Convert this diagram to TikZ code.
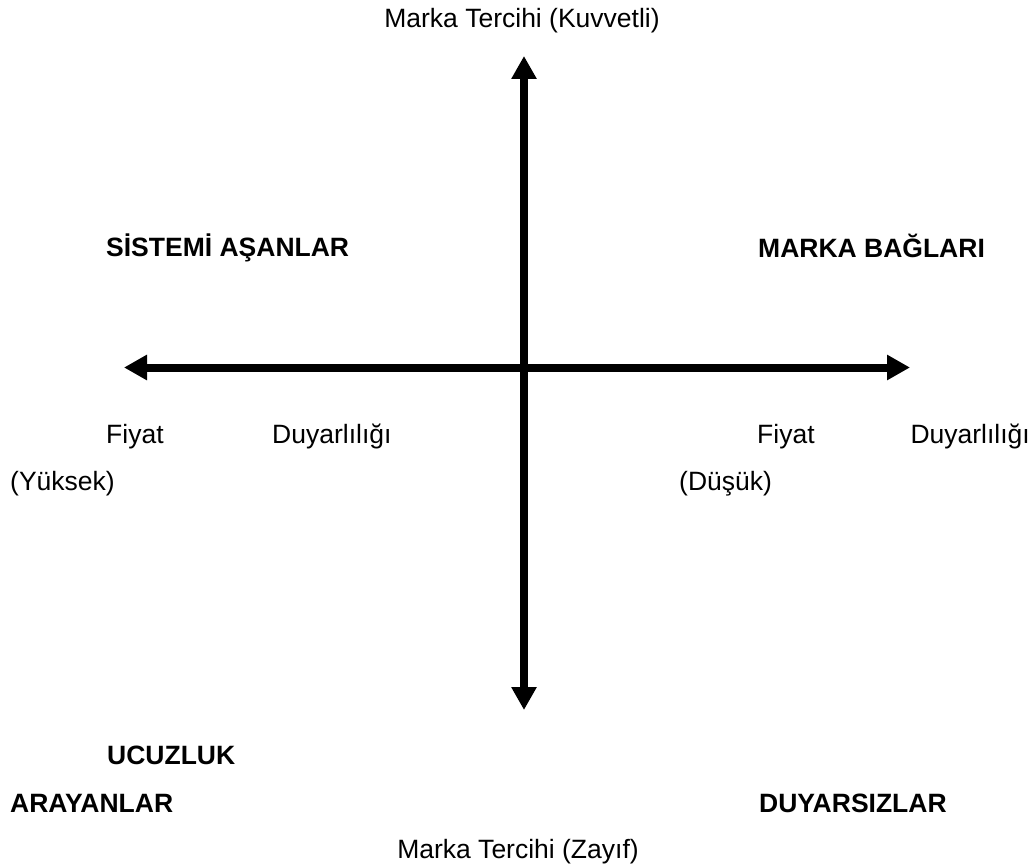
\documentclass[tikz,border=0pt]{standalone}
\usepackage{fontspec}
\setmainfont{Liberation Sans}
\usetikzlibrary{arrows.meta}
\tikzset{
	lbl/.style={inner sep=0pt, anchor=base west, font=\fontsize{26.5}{31}\selectfont},
	grp/.style={lbl, font=\fontsize{26.5}{31}\selectfont\bfseries},
	axis/.style={line width=8pt, {Triangle[length=23pt,width=24pt]}-{Triangle[length=23pt,width=24pt]}}
}
\begin{document}
\begin{tikzpicture}[x=1pt, y=-1pt]
			\useasboundingbox (0,0) rectangle (1032,866);
			\begin{scope}
				% axes
				\coordinate (top) at (524,56);
				\coordinate (bottom) at (524,710);
				\coordinate (left) at (124,367.5);
				\coordinate (right) at (910,367.5);
				\draw[axis] (bottom) -- (top);
				\draw[axis] (left) -- (right);
			\end{scope}
			
			\node[lbl, anchor=base] (strong) at (522,28) {Marka Tercihi (Kuvvetli)};
			\node[lbl, anchor=base] (weak) at (518,858) {Marka Tercihi (Zayıf)};
			
			\node[grp] (sistem) at (106,257) {SİSTEMİ AŞANLAR};
			\node[grp] (bagli) at (758,258) {MARKA BAĞLARI};
			\node[grp] (ucuz) at (107,764) {UCUZLUK};
			\node[grp] (araya) at (10,812) {ARAYANLAR};
			\node[grp] (duyarsiz) at (759,812) {DUYARSIZLAR};
			
			\node[lbl] (fiyatL) at (106,443) {Fiyat};
			\node[lbl] (duyarL) at (272,443) {Duyarlılığı};
			\node[lbl] (yuksek) at (10,490) {(Yüksek)};
			\node[lbl] (fiyatR) at (757,443) {Fiyat};
			\node[lbl] (duyarR) at (1030,443) [anchor=base east] {Duyarlılığı};
			\node[lbl] (dusuk) at (679,490) {(Düşük)};
\end{tikzpicture}
\end{document}
